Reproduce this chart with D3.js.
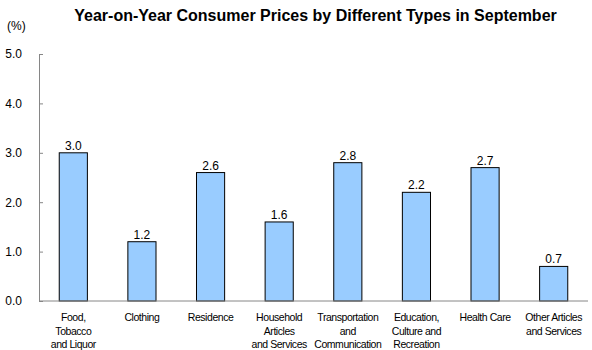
<!doctype html>
<html>
<head>
<script src="https://cdn.jsdelivr.net/npm/d3@7/dist/d3.min.js"></script>
<style>
  body { margin: 0; background: #fff; }
  svg { font-family: "Liberation Sans", Arial, sans-serif; }
  .axis path, .axis line { stroke: #868686; }
  .axis text { font-size: 12px; fill: #000; }
</style>
</head>
<body>
<svg width="592" height="350"></svg>
<script>
var categories = [
  ["Food,", "Tobacco", "and Liquor"],
  ["Clothing"],
  ["Residence"],
  ["Household", "Articles", "and Services"],
  ["Transportation", "and", "Communication"],
  ["Education,", "Culture and", "Recreation"],
  ["Health Care"],
  ["Other Articles", "and Services"]
];
var values = [3.0, 1.2, 2.6, 1.6, 2.8, 2.2, 2.7, 0.7];
var yTicks = [0, 1, 2, 3, 4, 5];

var svg = d3.select("svg");
var mLeft = 39, mRight = 588, mTop = 54, mBottom = 301;

var x = d3.scaleBand().domain(d3.range(values.length)).range([mLeft, mRight]).paddingInner(0.59).paddingOuter(0.295);
var y = d3.scaleLinear().domain([0, 5]).range([mBottom, mTop]);

// title
svg.append("text")
   .attr("x", 315.5).attr("y", 21)
   .attr("text-anchor", "middle")
   .style("font-weight", "bold").style("font-size", "16px")
   .text("Year-on-Year Consumer Prices by Different Types in September");

svg.append("text")
   .attr("x", 7).attr("y", 30)
   .style("font-size", "12px")
   .text("(%)");

// y axis, ticks point inward
var yAxis = d3.axisLeft(y).tickValues(yTicks).tickSizeInner(-4).tickSizeOuter(0).tickFormat(d3.format(".1f"));
var yg = svg.append("g").attr("class", "axis").attr("transform", "translate(" + mLeft + ",0)").call(yAxis);
yg.selectAll("text").attr("x", -17);

// bars
svg.selectAll("rect.bar")
   .data(values)
   .enter().append("rect")
   .attr("class", "bar")
   .attr("x", function(d, i) { return x(i); })
   .attr("width", x.bandwidth())
   .attr("y", function(d) { return y(d); })
   .attr("height", function(d) { return y(0) - y(d); })
   .attr("fill", "#99ccff")
   .attr("stroke", "#000")
   .attr("stroke-width", 1);

// value labels
svg.selectAll("text.val")
   .data(values)
   .enter().append("text")
   .attr("class", "val")
   .attr("x", function(d, i) { return x(i) + x.bandwidth() / 2; })
   .attr("y", function(d) { return y(d) - 3; })
   .attr("text-anchor", "middle")
   .style("font-size", "12px")
   .text(function(d) { return d3.format(".1f")(d); });

// x axis line
svg.append("line")
   .attr("x1", mLeft).attr("x2", mRight)
   .attr("y1", mBottom).attr("y2", mBottom)
   .attr("stroke", "#868686");

// category labels
var cat = svg.selectAll("text.cat")
   .data(categories)
   .enter().append("text")
   .attr("class", "cat")
   .attr("text-anchor", "middle")
   .style("font-size", "10.5px")
   .style("letter-spacing", "-0.45px")
   .attr("transform", function(d, i) { return "translate(" + (x(i) + x.bandwidth() / 2) + "," + (mBottom + 20) + ")"; });
cat.selectAll("tspan")
   .data(function(d) { return d; })
   .enter().append("tspan")
   .attr("x", 0)
   .attr("dy", function(d, j) { return j === 0 ? 0 : 13.5; })
   .text(function(d) { return d; });
</script>
</body>
</html>
